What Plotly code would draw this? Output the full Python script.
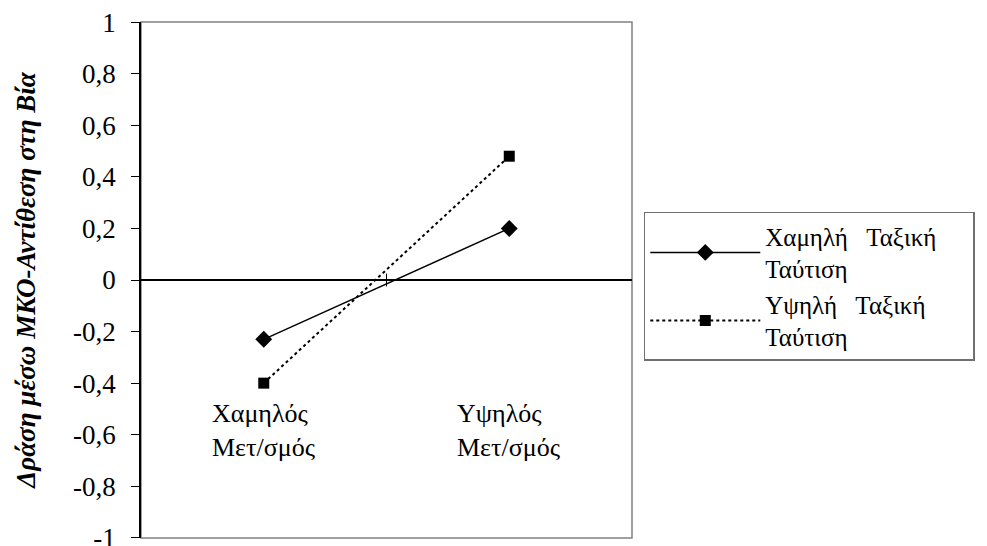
import plotly.graph_objects as go

# categories and series values
categories = ["Χαμηλός<br>Μετ/σμός", "Υψηλός<br>Μετ/σμός"]
low_ident = [-0.23, 0.2]
high_ident = [-0.40, 0.48]
series_names = ["Χαμηλή\u00a0\u00a0 Ταξική\u00a0\u00a0\u00a0\u00a0\u00a0<br>Ταύτιση",
                "Υψηλή\u00a0\u00a0 Ταξική\u00a0\u00a0\u00a0\u00a0\u00a0<br>Ταύτιση"]
y_ticks = [1, 0.8, 0.6, 0.4, 0.2, 0, -0.2, -0.4, -0.6, -0.8, -1]
y_ticklabels = [str(v).replace(".", ",") for v in y_ticks]

serif = "Liberation Serif"

fig = go.Figure()
fig.add_trace(go.Scatter(
    x=[0, 1], y=low_ident, name=series_names[0], mode="lines+markers",
    line=dict(color="black", width=1.5),
    marker=dict(symbol="diamond", size=13, color="black"),
))
fig.add_trace(go.Scatter(
    x=[0, 1], y=high_ident, name=series_names[1], mode="lines+markers",
    line=dict(color="black", width=2, dash="dot"),
    marker=dict(symbol="square", size=11, color="black"),
))

# category labels sit inside the plot like in the original
for i, c in enumerate(categories):
    fig.add_annotation(x=i, y=-0.585, text=c, showarrow=False, align="left",
                       xanchor="center", yanchor="middle",
                       font=dict(family=serif, size=26, color="black"))

# plot frame (grey) and small centre tick on the zero line
fig.add_shape(type="rect", xref="paper", yref="paper", x0=0, x1=1, y0=0, y1=1,
              line=dict(color="#808080", width=1.5), layer="below")
fig.add_shape(type="line", xref="paper", yref="y", x0=0.5, x1=0.5, y0=-0.025, y1=0.025,
              line=dict(color="black", width=1))

# page body has an 8px margin, so the figure is a bit smaller than the window
fig.update_layout(
    width=979, height=538,
    margin=dict(l=133, r=355, t=14, b=8),
    plot_bgcolor="white", paper_bgcolor="white",
    showlegend=True,
    legend=dict(
        x=1.024, y=0.632, xanchor="left", yanchor="top",
        bordercolor="#707070", borderwidth=1.5,
        font=dict(family=serif, size=25, color="black"),
        tracegroupgap=0, itemwidth=110,
    ),
    xaxis=dict(range=[-0.5, 1.5], showticklabels=False, showgrid=False,
               zeroline=False, showline=False, automargin=False),
    yaxis=dict(
        range=[-1.0005, 1.0005], tickvals=y_ticks, ticktext=y_ticklabels,
        ticks="outside", ticklen=8, tickcolor="black", ticklabelstandoff=10,
        ticklabeloverflow="allow", automargin=False,
        showgrid=False, showline=True, linecolor="black", linewidth=1.5,
        zeroline=True, zerolinecolor="black", zerolinewidth=1.5,
        tickfont=dict(family=serif, size=27, color="black"),
        title=dict(text="Δράση μέσω ΜΚΟ-Αντίθεση στη Βία", standoff=30,
                   font=dict(family=serif, size=27, color="black",
                             weight="bold", style="italic")),
    ),
)

fig.write_html("out.html")
